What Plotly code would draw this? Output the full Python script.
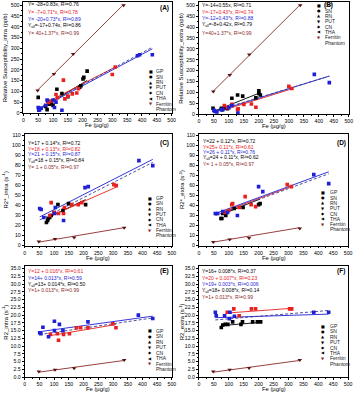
import plotly.graph_objects as go

# ---------------- data ----------------
phantom_x = [48, 103, 168, 338]

A_black_x = [50, 75, 80, 82, 88, 95, 100, 113, 130, 150, 190, 194, 201, 204, 215]
A_black_y = [72, 30, 15, 55, 40, 45, 35, 110, 90, 75, 119, 126, 157, 165, 194]
A_red_x = [85, 95, 110, 115, 135, 140, 150, 165, 180, 186, 300, 310]
A_red_y = [48, 55, 85, 70, 152, 65, 78, 88, 92, 112, 178, 213]
A_blue_x = [50, 52, 55, 60, 75, 80, 100, 105, 110, 130, 385, 392, 435]
A_blue_y = [25, 12, 15, 22, 35, 60, 60, 25, 50, 12, 265, 270, 270]
A_ph_y = [104, 180, 274, 500]

B_black_x = [47, 75, 78, 85, 95, 110, 129, 146, 190, 200, 200, 205]
B_black_y = [27, 27, 20, 30, 25, 73, 88, 83, 75, 107, 95, 88]
B_red_x = [85, 95, 110, 129, 131, 150, 175, 190, 300, 310]
B_red_y = [40, 30, 45, 20, 25, 45, 47, 32, 128, 118]
B_blue_x = [50, 52, 55, 60, 75, 80, 100, 110, 130, 385, 435]
B_blue_y = [18, 15, 12, 10, 20, 22, 30, 40, 5, 183, 145]
B_ph_y = [104, 180, 274, 500]

C_black_x = [74, 78, 80, 85, 90, 100, 113, 130, 149, 207]
C_black_y = [23, 25, 27, 28, 30, 33, 41, 35, 42, 41]
C_red_x = [85, 90, 100, 115, 132, 135, 160, 182, 194, 303, 311]
C_red_y = [30, 43, 33, 32, 32, 38, 41, 41, 43, 61, 60]
C_blue_x = [51, 56, 65, 102, 104, 132, 205, 216, 388, 435]
C_blue_y = [37, 36, 28, 32, 38, 25, 58, 59, 85, 80]
C_ph_y = [4, 6.5, 8, 17.8]

D_black_x = [74, 77, 80, 90, 118, 148, 200, 205]
D_black_y = [27, 27, 32, 30, 37, 38, 41, 42]
D_red_x = [85, 100, 110, 113, 135, 155, 175, 190, 296, 310]
D_red_y = [33, 35, 41, 42, 38, 49, 41, 39, 61, 59]
D_blue_x = [55, 63, 80, 96, 129, 200, 214, 385, 435]
D_blue_y = [32, 32, 34, 33, 30, 59, 54, 71, 62]
D_ph_y = [3.6, 6, 7.6, 17]

E_black_x = []
E_black_y = []
E_red_x = [87, 111, 115, 132, 152, 176, 190, 215, 299, 310]
E_red_y = [13.8, 14, 11.9, 13.8, 14, 15.9, 15.9, 15.9, 17.2, 15.9]
E_blue_x = [51, 55, 62, 81, 101, 101, 118, 130, 215, 386, 435]
E_blue_y = [14.3, 14, 16.1, 13, 18, 15, 17, 15, 17.8, 20, 18.9]
E_ph_y = [1.8, 2.4, 2.9, 5.5]

F_black_x = [75, 80, 88, 97, 113, 141, 146, 180, 196, 207]
F_black_y = [16, 16.8, 17, 17, 17.8, 17, 17.8, 17.8, 17.8, 17.8]
F_red_x = [95, 117, 135, 176, 190, 304, 311]
F_red_y = [20.9, 22, 19.8, 22, 22, 22, 22]
F_blue_x = [55, 58, 86, 102, 104, 119, 385, 435]
F_blue_y = [20.9, 19.8, 19.8, 18.8, 20.9, 19.6, 20.9, 20.9]
F_ph_y = [1.8, 2.4, 3.0, 5.5]

# fit coefficients (intercept, slope) as printed: black, red, blue, all, phantom
A_fits = [(-28, 0.83), (-7, 0.71), (-20, 0.73), (-17, 0.74), (40, 1.37)]
B_fits = [(-14, 0.55), (-17, 0.43), (-12, 0.43), (-8, 0.42), (40, 1.37)]
C_fits = [(17, 0.14), (18, 0.13), (21, 0.15), (18, 0.15), (1, 0.05)]
D_fits = [(22, 0.12), (25, 0.11), (26, 0.11), (24, 0.11), (1, 0.05)]
E_fits = [None, (12, 0.016), (14, 0.013), (13, 0.014), (1, 0.013)]
F_fits = [(16, 0.008), (20, 0.007), (19, 0.003), (18, 0.008), (1, 0.013)]

A_eq = ["Y= -28+0.83x, R²=0.76", "Y= -7+0.71*x, R²=0.78", "Y= -20+0.73*x, R²=0.89",
        "Y<sub>all</sub>=-17+0.74x, R²=0.86", "Y= 40+1.37*x, R²=0.99"]
B_eq = ["Y=-14+0.55x, R²=0.71", "Y=-17+0.43*x, R²=0.74", "Y=-12+0.43*x, R²=0.88",
        "Y<sub>all</sub>=-8+0.42x, R²=0.79", "Y=40+1.37*x, R²=0.99"]
C_eq = ["Y=17 + 0.14*x, R²=0.72", "Y=18 + 0.13*x, R²=0.82", "Y=21 + 0.15*x, R²=0.87",
        "Y<sub>all</sub>=18 + 0.15*x, R²=0.84", "Y= 1 + 0.05*x, R²=0.97"]
D_eq = ["Y=22 + 0.12*x, R²=0.72", "Y=25+ 0.11*x, R²=0.61", "Y=26 + 0.11*x, R²=0.76",
        "Y<sub>all</sub>=24 + 0.11*x, R²=0.62", "Y= 1 + 0.05*x, R²=0.97"]
E_eq = [None, "Y=12 + 0.016*x, R²=0.61", "Y=14+ 0.013*x, R²=0.59",
        "Y<sub>all</sub>=13+ 0.014*x, R²=0.50", "Y=1+ 0.013*x, R²=0.99"]
F_eq = ["Y=16+ 0.008*x, R²=0.37", "Y=20 + 0.007*x, R²=0.23", "Y=19+ 0.003*x, R²=0.006",
        "Y<sub>all</sub>=18+ 0.008*x, R²=0.14", "Y=1+ 0.013*x, R²=0.99"]

legend_labels = ["GP", "SN", "RN", "PUT", "CN", "THA", "Ferritin", "Phantom"]
legend_syms = ["■", "●", "▲", "▼", "◆", "◀", "▼", ""]

x_ticks = [0, 50, 100, 150, 200, 250, 300, 350, 400, 450, 500]

# ---------------- styling / layout ----------------
W, H = 360, 400
FONT = "Liberation Sans, Arial, sans-serif"
COL = ["#000000", "#e8201e", "#1f1fd6", "#3a3a8c", "#8b2a2a"]
PH_MARK = "#5a1212"

# panel frames in pixels: (x0, x1, ytop, ybottom)
panels = [
    dict(name="A", frame=(22.7, 173, 1, 113), yr=[0, 515], dt=50, fmt="", title="Relative Susceptibility_intra (ppb)",
         data=(A_black_x, A_black_y, A_red_x, A_red_y, A_blue_x, A_blue_y, A_ph_y), fits=A_fits, eq=A_eq,
         eqx=25, eqy=[3.5, 10.7, 17.9, 25.1, 32.3], lab=(165.5, 6.7), leg=(151.7, 155.5, 71, 5.45), ytx=4),
    dict(name="B", frame=(200.7, 352.7, 1.5, 114.3), yr=[0, 513], dt=50, fmt="", title="Relative Susceptibility_extra (ppb)",
         data=(B_black_x, B_black_y, B_red_x, B_red_y, B_blue_x, B_blue_y, B_ph_y), fits=B_fits, eq=B_eq,
         eqx=202, eqy=[4.3, 11, 17.5, 24.2, 32.3], lab=(331.7, 4.5), leg=(322.3, 326.7, 4.3, 5.4), ytx=183),
    dict(name="C", frame=(24, 173.3, 134, 247), yr=[0, 112], dt=10, fmt="", title="R2*_intra (s<sup>-1</sup>)",
         data=(C_black_x, C_black_y, C_red_x, C_red_y, C_blue_x, C_blue_y, C_ph_y), fits=C_fits, eq=C_eq,
         eqx=25, eqy=[143.3, 149, 154.7, 160.7, 167.5], lab=(165.5, 143.3), leg=(150.7, 155, 199, 5.4), ytx=4),
    dict(name="D", frame=(200.7, 352, 134, 247), yr=[0, 112], dt=10, fmt="", title="R2*_extra (s<sup>-1</sup>)",
         data=(D_black_x, D_black_y, D_red_x, D_red_y, D_blue_x, D_blue_y, D_ph_y), fits=D_fits, eq=D_eq,
         eqx=202.7, eqy=[141.7, 147.3, 152.7, 158.3, 165], lab=(345, 143.3), leg=(326.7, 331.7, 193.3, 5.35), ytx=183),
    dict(name="E", frame=(24, 173.3, 268, 380), yr=[0, 35.7], dt=2.5, fmt=".1f", title="R2_intra (s<sup>-1</sup>)",
         data=(E_black_x, E_black_y, E_red_x, E_red_y, E_blue_x, E_blue_y, E_ph_y), fits=E_fits, eq=E_eq,
         eqx=25, eqy=[None, 273, 279.7, 285.9, 292.3], lab=(165.5, 273), leg=(150.7, 155, 333.3, 5.55), ytx=4),
    dict(name="F", frame=(200.7, 352, 268, 380), yr=[0, 35.7], dt=2.5, fmt=".1f", title="R2_extra (s<sup>-1</sup>)",
         data=(F_black_x, F_black_y, F_red_x, F_red_y, F_blue_x, F_blue_y, F_ph_y), fits=F_fits, eq=F_eq,
         eqx=202, eqy=[273, 279.7, 285.9, 292.3, 299], lab=(345, 273), leg=(326.7, 331.7, 328.3, 5.45), ytx=183),
]

fig = go.Figure()
annotations = []


def px2paper(x, y):
    return x / W, 1 - y / H


for i, p in enumerate(panels):
    k = "" if i == 0 else str(i + 1)
    xa, ya = "x" + k, "y" + k
    x0, x1, yt, yb = p["frame"]
    dx0, _ = px2paper(x0, 0)
    dx1, _ = px2paper(x1, 0)
    _, dy1 = px2paper(0, yt)
    _, dy0 = px2paper(0, yb)
    axis_common = dict(showline=True, linecolor="black", linewidth=0.8, mirror=True, ticks="outside",
                       ticklen=2, tickwidth=0.6, tickcolor="black", showgrid=False, zeroline=False,
                       tickfont=dict(size=5.2, family=FONT, color="black"))
    fig.layout["xaxis" + k] = dict(domain=[dx0, dx1], anchor=ya, range=[0, 500], tickvals=x_ticks,
                                   minor=dict(ticks="outside", ticklen=1.2, dtick=25, tickcolor="black"),
                                   **axis_common)
    fig.layout["yaxis" + k] = dict(domain=[dy0, dy1], anchor=xa, range=p["yr"], dtick=p["dt"], tick0=0,
                                   tickformat=p["fmt"],
                                   minor=dict(ticks="outside", ticklen=1.2, dtick=p["dt"] / 2, tickcolor="black"),
                                   **axis_common)
    # axis titles as annotations for precise placement
    a, b = px2paper((x0 + x1) / 2, yb + 12.3)
    annotations.append(dict(x=a, y=b, xref="paper", yref="paper", text="Fe (µg/g)", showarrow=False,
                            xanchor="center", yanchor="middle", font=dict(size=5.8, family=FONT, color="black")))
    a, b = px2paper(p["ytx"], (yt + yb) / 2)
    annotations.append(dict(x=a, y=b, xref="paper", yref="paper", text=p["title"], showarrow=False,
                            textangle=-90, xanchor="center", yanchor="middle",
                            font=dict(size=6, family=FONT, color="black")))

    bx, by, rx, ry, blx, bly, phy = p["data"]
    groups = [(bx, by, COL[0]), (rx, ry, COL[1]), (blx, bly, COL[2])]
    # fit lines
    all_x = bx + rx + blx
    for g, (gx, gy, c) in enumerate(groups):
        f = p["fits"][g]
        if f is None or not gx:
            continue
        lx = [min(gx), max(gx)]
        fig.add_trace(go.Scatter(x=lx, y=[f[0] + f[1] * v for v in lx], mode="lines", xaxis=xa, yaxis=ya,
                                 line=dict(color=c, width=0.9), showlegend=False, hoverinfo="skip"))
    fa = p["fits"][3]
    lx = [min(all_x), max(all_x)]
    fig.add_trace(go.Scatter(x=lx, y=[fa[0] + fa[1] * v for v in lx], mode="lines", xaxis=xa, yaxis=ya,
                             line=dict(color=COL[3], width=0.9, dash="3px,2px"), showlegend=False, hoverinfo="skip"))
    fp = p["fits"][4]
    lx = [min(phantom_x), max(phantom_x)]
    fig.add_trace(go.Scatter(x=lx, y=[fp[0] + fp[1] * v for v in lx], mode="lines", xaxis=xa, yaxis=ya,
                             line=dict(color=COL[4], width=0.9), showlegend=False, hoverinfo="skip"))
    # points
    for gx, gy, c in groups:
        if not gx:
            continue
        fig.add_trace(go.Scatter(x=gx, y=gy, mode="markers", xaxis=xa, yaxis=ya,
                                 marker=dict(symbol="square", size=3.6, color=c, line=dict(width=0)),
                                 showlegend=False))
    fig.add_trace(go.Scatter(x=phantom_x, y=phy, mode="markers", xaxis=xa, yaxis=ya,
                             marker=dict(symbol="triangle-down", size=4, color=PH_MARK, line=dict(width=0)),
                             showlegend=False))

    # equations
    for j, t in enumerate(p["eq"]):
        if t is None:
            continue
        ax_, ay_ = px2paper(p["eqx"], p["eqy"][j])
        annotations.append(dict(x=ax_, y=ay_, xref="paper", yref="paper", text=t, showarrow=False,
                                xanchor="left", yanchor="middle",
                                font=dict(size=5, family=FONT, color=COL[j] if j != 3 else "#000000")))
    # panel label
    lx_, ly_ = px2paper(*p["lab"])
    annotations.append(dict(x=lx_, y=ly_, xref="paper", yref="paper", text="<b>(" + p["name"] + ")</b>",
                            showarrow=False, xanchor="center", yanchor="middle",
                            font=dict(size=6.5, family=FONT, color="black")))
    # legend
    sx, tx, y0, step = p["leg"]
    for j, (lab, sym) in enumerate(zip(legend_labels, legend_syms)):
        yy = y0 + j * step
        c = COL[4] if j == 6 else "#000000"
        if sym:
            a, b = px2paper(sx, yy)
            annotations.append(dict(x=a, y=b, xref="paper", yref="paper", text=sym, showarrow=False,
                                    xanchor="center", yanchor="middle", font=dict(size=4, family="DejaVu Sans", color=c)))
        a, b = px2paper(tx, yy)
        annotations.append(dict(x=a, y=b, xref="paper", yref="paper", text=lab, showarrow=False,
                                xanchor="left", yanchor="middle", font=dict(size=5, family=FONT, color="#222222")))

fig.update_layout(width=W, height=H, margin=dict(l=0, r=0, t=0, b=0), plot_bgcolor="white",
                  paper_bgcolor="white", showlegend=False, annotations=annotations,
                  font=dict(family=FONT, color="black"))
fig.write_html("out.html", config={"displayModeBar": False},
               post_script="document.body.style.margin='0';document.body.style.padding='0';"
                           "document.body.style.overflow='hidden';")
